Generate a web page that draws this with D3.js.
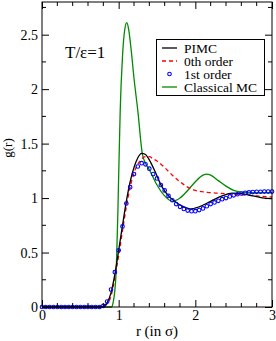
<!DOCTYPE html>
<html>
<head>
<meta charset="utf-8">
<script src="https://cdn.jsdelivr.net/npm/d3@7"></script>
<style>
  body { margin: 0; background: #fff; }
  svg { display: block; font-family: "Liberation Serif", "DejaVu Serif", serif; }
</style>
</head>
<body>
<svg id="chart" width="276" height="341"></svg>
<script>
      // r values (in sigma) and g(r)
      const pimcR = [0, 0.5, 0.78, 0.85, 0.9, 0.95, 1.0, 1.05, 1.1, 1.15, 1.2, 1.25, 1.3, 1.35, 1.4, 1.47, 1.56, 1.65, 1.75, 1.85, 1.93, 2.05, 2.2, 2.35, 2.48, 2.6, 2.75, 2.9, 3.0];
      const pimcG = [0, 0, 0, 0.04, 0.13, 0.3, 0.52, 0.75, 0.97, 1.15, 1.28, 1.37, 1.41, 1.4, 1.35, 1.25, 1.11, 1.02, 0.96, 0.92, 0.9, 0.92, 0.97, 1.02, 1.045, 1.04, 1.02, 1.0, 0.995];

      const zerothR = [0, 0.5, 0.8, 0.85, 0.9, 0.95, 1.0, 1.05, 1.1, 1.15, 1.2, 1.25, 1.3, 1.35, 1.4, 1.45, 1.5, 1.6, 1.7, 1.8, 1.9, 2.0, 2.2, 2.4, 2.6, 2.8, 3.0];
      const zerothG = [0, 0, 0, 0.03, 0.1, 0.27, 0.47, 0.7, 0.92, 1.1, 1.23, 1.31, 1.36, 1.38, 1.38, 1.36, 1.34, 1.28, 1.21, 1.15, 1.1, 1.07, 1.05, 1.04, 1.03, 1.02, 1.01];

      const firstR = d3.range(0, 61).map((i) => i * 0.05);
      const firstG = [0, 0, 0, 0, 0, 0, 0, 0, 0, 0, 0, 0, 0, 0, 0, 0,
        0.01, 0.05, 0.16, 0.32, 0.52, 0.74, 0.95, 1.1, 1.22, 1.29, 1.32, 1.31, 1.27, 1.22,
        1.18, 1.12, 1.07, 1.02, 0.98, 0.945, 0.92, 0.9, 0.885, 0.88, 0.88, 0.89, 0.905, 0.925,
        0.945, 0.96, 0.975, 0.99, 1.0, 1.015, 1.025, 1.035, 1.042, 1.048, 1.052, 1.055, 1.057,
        1.058, 1.06, 1.06, 1.06];

      const classicalR = [0, 0.5, 0.88, 0.91, 0.93, 0.95, 0.97, 0.99, 1.0, 1.02, 1.05, 1.08, 1.106, 1.13, 1.16, 1.2, 1.25, 1.31, 1.35, 1.4, 1.5, 1.6, 1.7, 1.8, 1.9, 2.0, 2.1, 2.15, 2.2, 2.3, 2.4, 2.5, 2.6, 2.8, 3.0];
      const classicalG = [0, 0, 0, 0.0, 0.05, 0.15, 0.37, 0.88, 1.2, 1.8, 2.3, 2.55, 2.61, 2.55, 2.38, 2.1, 1.8, 1.4, 1.32, 1.26, 1.12, 1.02, 0.97, 1.0, 1.07, 1.15, 1.21, 1.22, 1.21, 1.16, 1.11, 1.07, 1.055, 1.05, 1.05];

      const xMajor = [0, 1, 2, 3];
      const yMajor = [0, 0.5, 1, 1.5, 2, 2.5];
      const yLabels = ["0", "0.5", "1", "1.5", "2", "2.5"];

      const legendItems = [
        { label: "PIMC", kind: "line", color: "#000000", dash: null },
        { label: "0th order", kind: "line", color: "#ff0000", dash: "4,3" },
        { label: "1st order", kind: "dot", color: "#0000ff", dash: null },
        { label: "Classical MC", kind: "line", color: "#008b00", dash: null },
      ];

      const plotLeft = 42, plotRight = 272, plotTop = 2, plotBottom = 307;
      const svg = d3.select("#chart");
      const x = d3.scaleLinear().domain([0, 3]).range([plotLeft, plotRight]);
      const y = d3.scaleLinear().domain([0, 2.8]).range([plotBottom, plotTop]);

      const zip = (rs, gs) => rs.map((r, i) => [r, gs[i]]);
      const line = d3.line().x((d) => x(d[0])).y((d) => y(d[1])).curve(d3.curveMonotoneX);

      const plot = svg.append("g");
      plot.append("path").datum(zip(classicalR, classicalG))
        .attr("d", line).attr("fill", "none").attr("stroke", "#008b00").attr("stroke-width", 1.3);
      plot.append("path").datum(zip(zerothR, zerothG))
        .attr("d", line).attr("fill", "none").attr("stroke", "#ff0000").attr("stroke-width", 1.3).attr("stroke-dasharray", "4,3");
      plot.append("path").datum(zip(pimcR, pimcG))
        .attr("d", line).attr("fill", "none").attr("stroke", "#000000").attr("stroke-width", 1.3);
      plot.selectAll("circle.first").data(zip(firstR, firstG)).join("circle")
        .attr("class", "first")
        .attr("cx", (d) => x(d[0])).attr("cy", (d) => y(d[1])).attr("r", 1.8)
        .attr("fill", "none").attr("stroke", "#0000ff").attr("stroke-width", 1.1);

      // axes: ticks inward on all four sides
      const xMinor = d3.range(0, 3.001, 0.2).filter((v) => Math.abs(v - Math.round(v)) > 1e-6);
      const yMinor = d3.range(0.25, 2.8, 0.5);
      const bottomAxis = d3.axisBottom(x).tickValues(xMajor).tickSize(-7).tickFormat(d3.format("d"));
      const topAxis = d3.axisTop(x).tickValues(xMajor).tickSize(-7).tickFormat("");
      const leftAxis = d3.axisLeft(y).tickValues(yMajor).tickSize(-7).tickFormat((d, i) => yLabels[i]);
      const rightAxis = d3.axisRight(y).tickValues(yMajor).tickSize(-7).tickFormat("");

      function styleAxis(g) {
        g.select(".domain").remove();
        g.selectAll("line").attr("stroke", "#000").attr("stroke-width", 1);
        g.selectAll("text").attr("fill", "#000").attr("font-family", "Liberation Serif, serif").attr("font-size", 14);
      }
      svg.append("g").attr("transform", `translate(0,${plotBottom})`).call(bottomAxis).call(styleAxis)
        .selectAll("text").attr("dy", "0.71em").attr("y", 3);
      svg.append("g").attr("transform", `translate(0,${plotTop})`).call(topAxis).call(styleAxis);
      svg.append("g").attr("transform", `translate(${plotLeft},0)`).call(leftAxis).call(styleAxis)
        .selectAll("text").attr("x", -4);
      svg.append("g").attr("transform", `translate(${plotRight},0)`).call(rightAxis).call(styleAxis);

      const minorTicks = svg.append("g").attr("stroke", "#000").attr("stroke-width", 1);
      xMinor.forEach((v) => {
        minorTicks.append("line").attr("x1", x(v)).attr("x2", x(v)).attr("y1", plotBottom).attr("y2", plotBottom - 4);
        minorTicks.append("line").attr("x1", x(v)).attr("x2", x(v)).attr("y1", plotTop).attr("y2", plotTop + 4);
      });
      yMinor.forEach((v) => {
        minorTicks.append("line").attr("x1", plotLeft).attr("x2", plotLeft + 4).attr("y1", y(v)).attr("y2", y(v));
        minorTicks.append("line").attr("x1", plotRight).attr("x2", plotRight - 4).attr("y1", y(v)).attr("y2", y(v));
      });

      svg.append("rect").attr("x", plotLeft).attr("y", plotTop).attr("width", plotRight - plotLeft).attr("height", plotBottom - plotTop)
        .attr("fill", "none").attr("stroke", "#000").attr("stroke-width", 1);

      // labels
      svg.append("text").attr("x", (plotLeft + plotRight) / 2).attr("y", 336).attr("text-anchor", "middle")
        .attr("font-size", 15).text("r (in σ)");
      svg.append("text").attr("transform", "translate(12,148) rotate(-90)").attr("text-anchor", "middle")
        .attr("font-size", 13).text("g(r)");
      svg.append("text").attr("x", 65).attr("y", 58).attr("font-size", 17).text("T/ε=1");

      // legend
      const legend = svg.append("g");
      legend.append("rect").attr("x", 156.5).attr("y", 39.5).attr("width", 108).attr("height", 56)
        .attr("fill", "#fff").attr("stroke", "#000").attr("stroke-width", 1);
      legendItems.forEach((item, i) => {
        const cy = 48 + i * 13;
        if (item.kind === "line") {
          legend.append("line").attr("x1", 162).attr("x2", 177).attr("y1", cy).attr("y2", cy)
            .attr("stroke", item.color).attr("stroke-width", 1.3).attr("stroke-dasharray", item.dash);
        } else {
          legend.append("circle").attr("cx", 169.5).attr("cy", cy).attr("r", 1.8)
            .attr("fill", "none").attr("stroke", item.color).attr("stroke-width", 1.1);
        }
        legend.append("text").attr("x", 184).attr("y", cy + 4.5).attr("font-size", 13.5)
          .attr("textLength", null).text(item.label);
      });
</script>
</body>
</html>
